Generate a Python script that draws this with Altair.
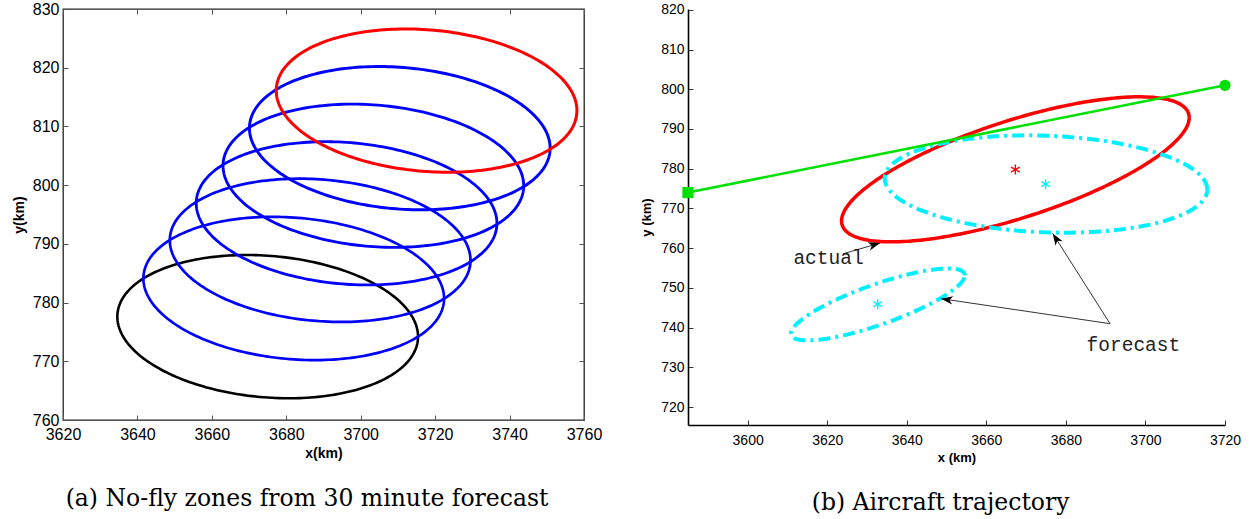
import altair as alt
import numpy as np
import pandas as pd

# ---------------- panel (a): no-fly zones from 30 minute forecast ----------------
A_NAMES = ["zone 0", "zone 1", "zone 2", "zone 3", "zone 4", "zone 5", "zone 6"]
A_COLORS = ["#000000", "#0000ff", "#0000ff", "#0000ff", "#0000ff", "#0000ff", "#ff0000"]
A_WIDTHS = [2.6, 3, 3, 3, 3, 3, 3]
A_CX = [3675.0, 3682.0, 3689.1, 3696.2, 3703.4, 3710.5, 3717.7]   # ellipse centres
A_CY = [775.9, 782.4, 788.9, 795.2, 801.6, 808.0, 814.4]
A_WX = [40.4, 40.4, 40.4, 40.4, 40.4, 40.4, 40.4]                # half width
A_WY = [12.2, 12.2, 12.2, 12.2, 12.2, 12.2, 12.2]                # half height
A_DY = [-1.7, -1.7, -1.7, -1.7, -1.7, -1.7, -1.7]                # y shift at east end
A_XTICKS = [3620, 3640, 3660, 3680, 3700, 3720, 3740, 3760]
A_YTICKS = [760, 770, 780, 790, 800, 810, 820, 830]

# ---------------- panel (b): aircraft trajectory ----------------
B_NAMES = ["actual", "forecast", "forecast early"]
B_CX = [3667.3, 3675.0, 3632.75]
B_CY = [779.85, 776.15, 745.85]
B_WX = [43.7, 40.55, 21.85]
B_WY = [18.25, 12.25, 9.05]
B_DY = [13.0, -1.4, 7.3]
STAR_X = [3667.3, 3674.9, 3632.7]
STAR_Y = [779.8, 776.1, 745.9]
STAR_COLOR = ["#ff0000", "#00f0ff", "#00f0ff"]
TRAJ_X = [3585, 3720]
TRAJ_Y = [774.0, 801.0]
TRAJ_SHAPE = ["square", "circle"]
LABEL_TEXT = ["actual", "forecast"]
LABEL_X = [3611.5, 3685.2]
LABEL_Y = [757.6, 735.7]
ARROW_X0 = [3624.0, 3691.1, 3691.1]
ARROW_Y0 = [758.6, 741.0, 741.0]
ARROW_X1 = [3633.3, 3676.7, 3648.6]
ARROW_Y1 = [761.3, 763.7, 747.3]
B_XTICKS = [3600, 3620, 3640, 3660, 3680, 3700, 3720]
B_YTICKS = [720, 730, 740, 750, 760, 770, 780, 790, 800, 810, 820]

T = np.linspace(0, 2 * np.pi, 241)


def ellipse_frame(names, cx, cy, wx, wy, dy):
    rows = []
    for k, n in enumerate(names):
        s = np.sqrt(wy[k] ** 2 - dy[k] ** 2)
        for i, tt in enumerate(T):
            rows.append({"zone": n, "i": i,
                         "x": cx[k] + wx[k] * np.cos(tt),
                         "y": cy[k] + dy[k] * np.cos(tt) + s * np.sin(tt)})
    return pd.DataFrame(rows)


SANS = "Liberation Sans"
TICK = 5

# ---------------- left chart ----------------
A_W, A_H = 521, 411
a_df = ellipse_frame(A_NAMES, A_CX, A_CY, A_WX, A_WY, A_DY)
a_xs = alt.Scale(domain=[3620, 3760], nice=False, zero=False)
a_ys = alt.Scale(domain=[760, 830], nice=False, zero=False)

a_lines = alt.Chart(a_df).mark_line().encode(
    x=alt.X("x:Q", scale=a_xs, axis=alt.Axis(
        orient="bottom", values=A_XTICKS, format="d", offset=-TICK, tickSize=TICK,
        domain=False, grid=False, tickColor="#555", labelFont=SANS, labelFontSize=16,
        labelColor="black", labelPadding=6, labelFlush=False, labelOverlap=False,
        title="x(km)", titleFont=SANS, titleFontSize=14, titleFontWeight="bold",
        titleColor="black", titlePadding=4)),
    y=alt.Y("y:Q", scale=a_ys, axis=alt.Axis(
        orient="left", values=A_YTICKS, format="d", offset=-TICK, tickSize=TICK,
        domain=False, grid=False, tickColor="#555", labelFont=SANS, labelFontSize=16,
        labelColor="black", labelPadding=4, labelFlush=False, labelOverlap=False,
        title="y(km)", titleFont=SANS, titleFontSize=14, titleFontWeight="bold",
        titleColor="black", titlePadding=6)),
    color=alt.Color("zone:N", scale=alt.Scale(domain=A_NAMES, range=A_COLORS), legend=None),
    strokeWidth=alt.StrokeWidth("zone:N", scale=alt.Scale(domain=A_NAMES, range=A_WIDTHS), legend=None),
    detail="zone:N",
    order="i:Q",
)

a_ghost = alt.Chart(a_df).mark_line(opacity=0).encode(
    x=alt.X("x:Q", scale=a_xs, title=None, axis=alt.Axis(
        orient="top", values=A_XTICKS, offset=-TICK, tickSize=TICK, domain=False,
        grid=False, labels=False, tickColor="#555")),
    y=alt.Y("y:Q", scale=a_ys, title=None, axis=alt.Axis(
        orient="right", values=A_YTICKS, offset=-TICK, tickSize=TICK, domain=False,
        grid=False, labels=False, tickColor="#555")),
    detail="zone:N",
    order="i:Q",
)

CAPTION_FONT = "DejaVu Serif"
CAPTION_SIZE = 23.5

left = alt.layer(a_ghost, a_lines).resolve_axis(x="independent", y="independent").properties(
    width=A_W, height=A_H,
    view=alt.ViewBackground(stroke="#222", strokeWidth=1.3),
    title=alt.TitleParams("(a) No-fly zones from 30 minute forecast", orient="bottom",
                          anchor="middle", frame="bounds", font=CAPTION_FONT,
                          fontSize=CAPTION_SIZE, fontWeight="normal", color="black",
                          offset=27),
)

# ---------------- right chart ----------------
B_W, B_H = 537, 416
B_XD = [3585, 3720]
B_YD = [715.5, 820.2]
PX_X = B_W / (B_XD[1] - B_XD[0])
PX_Y = B_H / (B_YD[1] - B_YD[0])
b_xs = alt.Scale(domain=B_XD, nice=False, zero=False)
b_ys = alt.Scale(domain=B_YD, nice=False, zero=False)

b_df = ellipse_frame(B_NAMES, B_CX, B_CY, B_WX, B_WY, B_DY)
traj_df = pd.DataFrame({"x": TRAJ_X, "y": TRAJ_Y, "shape": TRAJ_SHAPE})
star_df = pd.DataFrame({"x": STAR_X, "y": STAR_Y, "c": STAR_COLOR})
label_df = pd.DataFrame({"x": LABEL_X, "y": LABEL_Y, "t": LABEL_TEXT})
ang = [float(np.degrees(np.arctan2((x1 - x0) * PX_X, (y1 - y0) * PX_Y))) % 360
       for x0, y0, x1, y1 in zip(ARROW_X0, ARROW_Y0, ARROW_X1, ARROW_Y1)]
arrow_df = pd.DataFrame({"x0": ARROW_X0, "y0": ARROW_Y0, "x1": ARROW_X1, "y1": ARROW_Y1, "ang": ang})

NOAX_X = alt.X("x:Q", scale=b_xs, axis=None)
NOAX_Y = alt.Y("y:Q", scale=b_ys, axis=None)

b_axisline = alt.Chart(traj_df).mark_line(opacity=0).encode(
    x=alt.X("x:Q", scale=b_xs, title=None, axis=alt.Axis(
        orient="bottom", domain=True, ticks=False, labels=False, grid=False,
        domainColor="black", domainWidth=1.6)),
    y=alt.Y("y:Q", scale=b_ys, title=None, axis=alt.Axis(
        orient="left", domain=True, ticks=False, labels=False, grid=False,
        domainColor="black", domainWidth=1.6)),
)

b_actual = alt.Chart(b_df[b_df.zone == "actual"]).mark_line(
    color="#ff0000", strokeWidth=3.5).encode(
    x=alt.X("x:Q", scale=b_xs, axis=alt.Axis(
        orient="bottom", values=B_XTICKS, format="d", offset=-TICK, tickSize=TICK,
        domain=False, grid=False, tickColor="#333", labelFont=SANS, labelFontSize=14,
        labelColor="black", labelPadding=8, labelFlush=False, labelOverlap=False,
        title="x (km)", titleFont=SANS, titleFontSize=13, titleFontWeight="bold",
        titleColor="black", titlePadding=4)),
    y=alt.Y("y:Q", scale=b_ys, axis=alt.Axis(
        orient="left", values=B_YTICKS, format="d", offset=-TICK, tickSize=TICK,
        domain=False, grid=False, tickColor="#333", labelFont=SANS, labelFontSize=14,
        labelColor="black", labelPadding=4, labelFlush=False, labelOverlap=False,
        title="y (km)", titleFont=SANS, titleFontSize=13, titleFontWeight="bold",
        titleColor="black", titlePadding=7)),
    order="i:Q",
)

b_fore = alt.Chart(b_df[b_df.zone != "actual"]).mark_line(
    color="#00f0ff", strokeWidth=4, strokeDash=[12, 5, 3, 5]).encode(
    x=NOAX_X, y=NOAX_Y, detail="zone:N", order="i:Q")

b_traj = alt.Chart(traj_df).mark_line(color="#00e000", strokeWidth=2.5).encode(
    x=NOAX_X, y=NOAX_Y)
b_ends = alt.Chart(traj_df).mark_point(filled=True, size=125, color="#00e000", opacity=1).encode(
    x=NOAX_X, y=NOAX_Y, shape=alt.Shape("shape:N", scale=None))

ASTERISK = "M0,-1L0,1M-0.87,-0.5L0.87,0.5M-0.87,0.5L0.87,-0.5"
b_stars = alt.Chart(star_df).mark_point(shape=ASTERISK, filled=False, size=100,
                                        strokeWidth=1.4, opacity=1).encode(
    x=NOAX_X, y=NOAX_Y, color=alt.Color("c:N", scale=None))

b_shafts = alt.Chart(arrow_df).mark_rule(color="#333", strokeWidth=1).encode(
    x=alt.X("x0:Q", scale=b_xs, axis=None), y=alt.Y("y0:Q", scale=b_ys, axis=None),
    x2="x1:Q", y2="y1:Q")
ARROWHEAD = "M0,0L0.36,1L0,0.72L-0.36,1Z"
b_heads = alt.Chart(arrow_df).mark_point(shape=ARROWHEAD, filled=True, size=560,
                                         color="black", opacity=1, strokeWidth=0).encode(
    x=alt.X("x1:Q", scale=b_xs, axis=None), y=alt.Y("y1:Q", scale=b_ys, axis=None),
    angle=alt.Angle("ang:Q", scale=None))

b_text = alt.Chart(label_df).mark_text(font="Liberation Mono", fontSize=19.5, align="left",
                                       baseline="middle", color="#222").encode(
    x=NOAX_X, y=NOAX_Y, text="t:N")

right = alt.layer(b_axisline, b_actual, b_fore, b_traj, b_ends, b_stars, b_shafts, b_heads,
                  b_text).resolve_axis(x="independent", y="independent").properties(
    width=B_W, height=B_H,
    title=alt.TitleParams("(b) Aircraft trajectory", orient="bottom", anchor="middle",
                          frame="bounds", font=CAPTION_FONT, fontSize=CAPTION_SIZE,
                          fontWeight="normal", color="black", offset=27),
)

chart = alt.hconcat(left, right, spacing=37).configure(
    padding={"left": 11, "top": 0, "right": 0, "bottom": 0},
    background="white",
).configure_view(stroke=None)

chart.save("out.html", embed_options={"renderer": "svg", "actions": False})
